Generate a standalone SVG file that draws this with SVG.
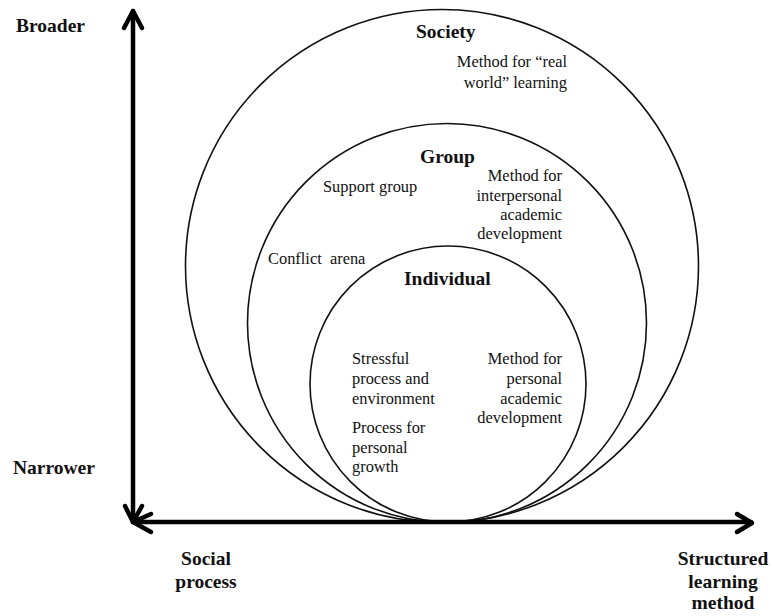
<svg xmlns="http://www.w3.org/2000/svg" width="772" height="616" viewBox="0 0 772 616">
<style>
.c{fill:none;stroke:#111;stroke-width:1.6}
.ax{fill:none;stroke:#000;stroke-width:4.5;stroke-linecap:round;stroke-linejoin:round}
text{font-family:"Liberation Serif","Times New Roman",serif;fill:#111}
.b{font-weight:bold;font-size:19.5px}
.t{font-size:16.4px}
.e{text-anchor:end}
.m{text-anchor:middle}
</style>
<rect width="772" height="616" fill="#fff"/>
<g id="society">
<circle class="c" cx="442" cy="266" r="256.5"/>
<text class="b" x="416" y="38">Society</text>
<text class="t e" x="567" y="67">Method for “real</text>
<text class="t e" x="567" y="88">world” learning</text>
</g>
<g id="group">
<circle class="c" cx="447" cy="323" r="199.5"/>
<text class="b" x="420" y="163">Group</text>
<text class="t" x="323" y="192">Support group</text>
<text class="t" x="268" y="264" xml:space="preserve">Conflict  arena</text>
<text class="t e" x="562" y="181">Method for</text>
<text class="t e" x="562" y="201">interpersonal</text>
<text class="t e" x="562" y="220">academic</text>
<text class="t e" x="562" y="239">development</text>
</g>
<g id="individual">
<circle class="c" cx="448" cy="384" r="138"/>
<text class="b" x="404" y="285">Individual</text>
<text class="t" x="352" y="364">Stressful</text>
<text class="t" x="352" y="384">process and</text>
<text class="t" x="352" y="404">environment</text>
<text class="t" x="352" y="433">Process for</text>
<text class="t" x="352" y="453">personal</text>
<text class="t" x="352" y="472">growth</text>
<text class="t e" x="562" y="364">Method for</text>
<text class="t e" x="562" y="384">personal</text>
<text class="t e" x="562" y="404">academic</text>
<text class="t e" x="562" y="423">development</text>
</g>
<g id="axes">
<path class="ax" d="M133 11 V522 M133 522 H751"/>
<path class="ax" d="M124 28 L133 11 L142 28"/>
<path class="ax" d="M125 506 L133 522 L142 506"/>
<path class="ax" d="M151 514 L133 522 L151 532"/>
<path class="ax" d="M737 514 L752 523 L737 532"/>
</g>
<g id="labels">
<text class="b" x="16" y="32">Broader</text>
<text class="b" x="13" y="474">Narrower</text>
<text class="b m" x="206" y="565">Social</text>
<text class="b m" x="206" y="588">process</text>
<text class="b m" x="723" y="565">Structured</text>
<text class="b m" x="723" y="588">learning</text>
<text class="b m" x="723" y="609">method</text>
</g>
</svg>
